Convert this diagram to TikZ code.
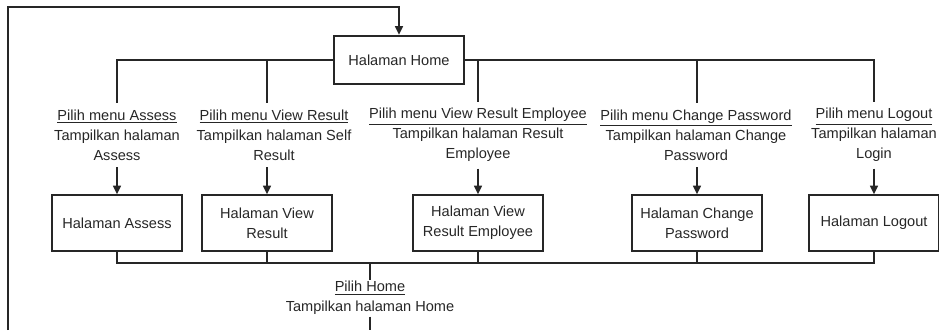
\documentclass[tikz,border=0pt]{standalone}
\usepackage{fontspec}
\setmainfont{Liberation Sans}
\usetikzlibrary{arrows.meta,positioning}

\begin{document}
\begin{tikzpicture}[x=0.7pt,y=-0.7pt,
  halaman/.style={draw,line width=1.3pt,minimum width=91pt,minimum height=39pt,align=center,inner sep=2pt},
  menu/.style={align=center,inner xsep=1pt,inner ysep=4.5pt},
  garis/.style={line width=1.3pt},
  panah/.style={garis,-{Triangle[length=6pt,width=5.5pt]}},
  font=\fontsize{10.2}{14}\selectfont,color=black!85]
  \useasboundingbox (0,0) rectangle (939,330); % 画像の大きさ
  \node[halaman,minimum height=34pt] (home) at (399,60) {Halaman Home}; % 中央のホーム
  \node[menu] (l1) at (117,135) {\underline{Pilih menu Assess}\\Tampilkan halaman\\Assess};
  \node[menu] (l2) at (274,135) {\underline{Pilih menu View Result}\\Tampilkan halaman Self\\Result};
  \node[menu] (l3) at (478,135) {\underline{Pilih menu View Result Employee}\\Tampilkan halaman Result\\Employee};
  \node[menu] (l4) at (696,135) {\underline{Pilih menu Change Password}\\Tampilkan halaman Change\\Password};
  \node[menu] (l5) at (874,135) {\underline{Pilih menu Logout}\\Tampilkan halaman\\Login};
  \node[halaman] (v1) at (117,223) {Halaman Assess}; % 各ページ
  \node[halaman] (v2) at (267,223) {Halaman View\\Result};
  \node[halaman] (v3) at (478,223) {Halaman View\\Result Employee};
  \node[halaman] (v4) at (697,223) {Halaman Change\\Password};
  \node[halaman] (v5) at (874,223) {Halaman Logout};
  \node[menu,inner ysep=1pt] (hm) at (370,298) {\underline{Pilih Home}\\Tampilkan halaman Home}; % ホームへ戻る
  \coordinate (jn) at (370,263); % 下側の合流点
  \coordinate (lb) at (8,330); % 左下（画像の端）
  \coordinate (lt) at (8,7); % 左上の角
  \draw[garis] (home.west) -| (l1.north); % 上側の分岐線
  \draw[garis] (home.west) -| (l2.north -| v2);
  \draw[garis] (home.east) -| (l3.north -| v3);
  \draw[garis] (home.east) -| (l4.north -| v4);
  \draw[garis] (home.east) -| (l5.north);
  \draw[panah] (l1.south) -- (v1.north); % メニューからページへの矢印
  \draw[panah] (l2.south -| v2) -- (v2.north);
  \draw[panah] (l3.south -| v3) -- (v3.north);
  \draw[panah] (l4.south -| v4) -- (v4.north);
  \draw[panah] (l5.south) -- (v5.north);
  \draw[garis] (v1.south) |- (jn) -| (v5.south); % 下側の合流線
  \draw[garis] (v2.south) -- (v2.south |- jn);
  \draw[garis] (v3.south) -- (v3.south |- jn);
  \draw[garis] (v4.south) -- (v4.south |- jn);
  \draw[garis] (jn) -- (hm.north);
  \draw[garis] (hm.south) -- (hm.south |- lb); % 画像の下へ抜ける線
  \draw[panah] (lb) -- (lt) -| (home.north); % 左側を回ってホームへ戻る
\end{tikzpicture}
\end{document}
